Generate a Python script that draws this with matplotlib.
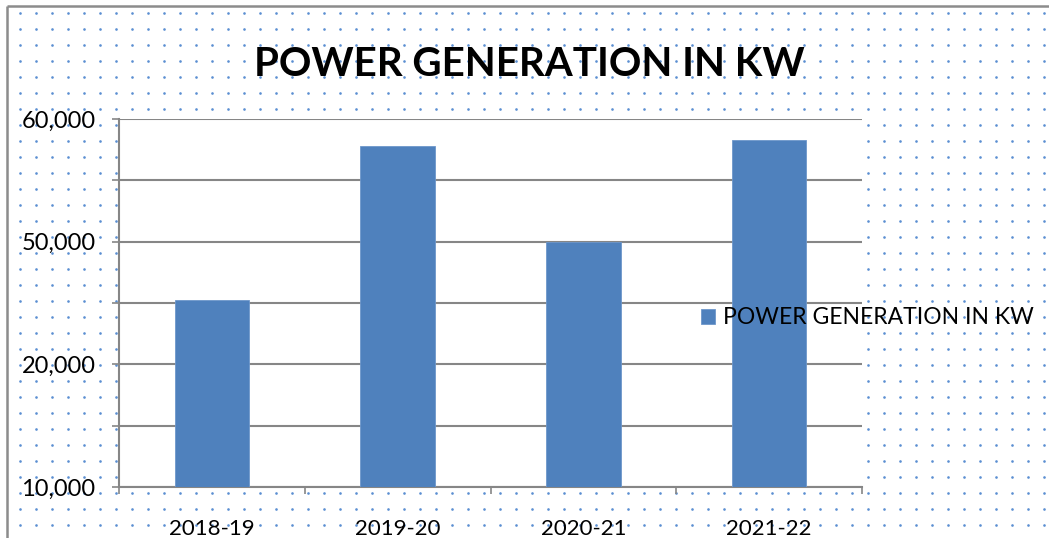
import numpy as np
import matplotlib
matplotlib.use("Agg")
import matplotlib.pyplot as plt

# ---- data ----
categories = ["2018-19", "2019-20", "2020-21", "2021-22"]
values = [30500, 55600, 40000, 56600]
series_name = "POWER GENERATION IN KW"
title = "POWER GENERATION IN KW"
ytick_values = [0, 10000, 20000, 30000, 40000, 50000, 60000]
ytick_labels = ["10,000", "", "20,000", "", "50,000", "", "60,000"]

W, H = 1049, 538
FONT = "Lato"
plt.rcParams["font.family"] = [FONT, "DejaVu Sans"]

fig = plt.figure(figsize=(W / 100, H / 100), dpi=100)
fig.patch.set_facecolor("white")

# background: dotted pattern and frame
bg = fig.add_axes([0, 0, 1, 1], zorder=-5)
bg.set_xlim(0, W)
bg.set_ylim(H, 0)
bg.axis("off")
gx, gy = np.meshgrid(np.arange(20, W, 16), np.arange(12.7, H, 16))
bg.scatter(gx.ravel(), gy.ravel(), s=3.6, color="#5b8fd2", linewidths=0)
bg.plot([7, 7], [6, H + 5], color="#8c8c8c", lw=1.8, solid_capstyle="butt")
bg.plot([7, W + 5], [6, 6], color="#8c8c8c", lw=1.8, solid_capstyle="butt")

# main axes
ax = fig.add_axes([119 / W, 1 - 487 / H, (862 - 119) / W, (487 - 119) / H], zorder=1)
ax.set_facecolor("white")
x = np.arange(len(categories))
ax.bar(x, values, width=0.4, color="#4f81bd", edgecolor="#6d97cb", linewidth=0.6,
       zorder=3, label=series_name)
ax.set_xlim(-0.5, len(categories) - 0.5)
ax.set_ylim(0, 60000)

grid_c = "#868686"
ax.set_yticks(ytick_values)
ax.set_yticklabels(ytick_labels)
ax.grid(axis="y", color=grid_c, lw=1.5, zorder=0)
ax.set_axisbelow(True)
for s in ["top", "right"]:
    ax.spines[s].set_visible(False)
for s in ["left", "bottom"]:
    ax.spines[s].set_color(grid_c)
    ax.spines[s].set_linewidth(1.5)

ax.tick_params(axis="y", direction="out", length=5, width=1.2, color=grid_c,
               pad=12, labelsize=17, labelcolor="black")
ax.set_xticks(x)
ax.set_xticklabels(categories)
ax.tick_params(axis="x", which="major", length=0, pad=23, labelsize=16, labelcolor="black")
ax.set_xticks(np.arange(-0.5, len(categories), 1.0), minor=True)
ax.tick_params(axis="x", which="minor", direction="out", length=5, width=1.2, color=grid_c)

fig.text(529.5 / W, 1 - 65 / H, title, ha="center", va="center",
         fontsize=29, fontweight="bold", color="black")

leg = ax.legend(loc="center left", bbox_to_anchor=(701 / W, 1 - 318 / H),
                bbox_transform=fig.transFigure, frameon=False, fontsize=16.5,
                handlelength=0.6, handleheight=0.6, handletextpad=0.35, borderpad=0,
                borderaxespad=0)
leg.set_zorder(10)

fig.savefig("out.png", dpi=100, facecolor="white")
